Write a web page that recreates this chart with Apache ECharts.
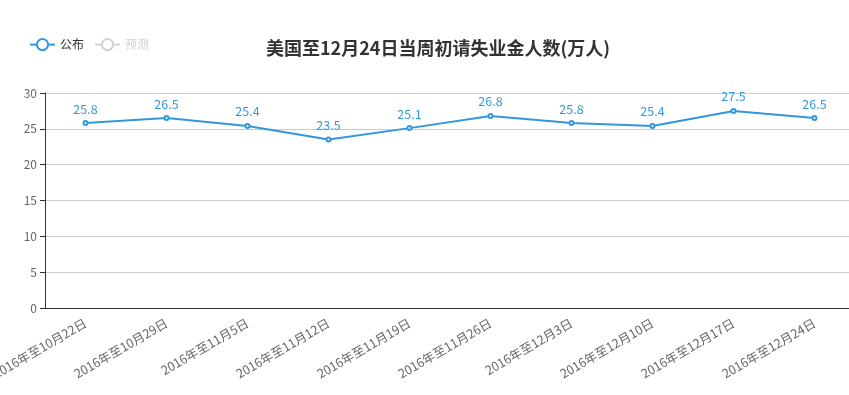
<!DOCTYPE html>
<html><head><meta charset="utf-8">
<script src="https://cdn.jsdelivr.net/npm/echarts@6/dist/echarts.min.js"></script>
<style>html,body{margin:0;padding:0;overflow:hidden;background:#fff;}#c{width:876px;height:395px;}</style>
</head><body><div id="c"></div>
<script>
const categories = ['2016年至10月22日','2016年至10月29日','2016年至11月5日','2016年至11月12日','2016年至11月19日','2016年至11月26日','2016年至12月3日','2016年至12月10日','2016年至12月17日','2016年至12月24日'];
const published = [25.8, 26.5, 25.4, 23.5, 25.1, 26.8, 25.8, 25.4, 27.5, 26.5];
const forecast = [];
const seriesNames = ['公布','预测'];
const titleText = '美国至12月24日当周初请失业金人数(万人)';

const chart = echarts.init(document.getElementById('c'));
const font = '"Noto Sans CJK SC", "Microsoft YaHei", sans-serif';
chart.setOption({
  animation: false,
  textStyle: {fontFamily: font},
  color: ['#3398DB', '#999'],
  title: {text: titleText, left: 'center', top: 34, textStyle: {fontSize: 18, fontWeight: 'bold', color: '#333', fontFamily: font}},
  legend: {left: 24, top: 33, itemWidth: 25, itemHeight: 14, itemGap: 10, data: seriesNames,
    selected: {'公布': true, '预测': false},
    textStyle: {fontSize: 12, color: '#333'}},
  grid: {left: 45, right: 21, top: 93, bottom: 87, containLabel: false, outerBoundsMode: 'none'},
  xAxis: {type: 'category', data: categories, boundaryGap: true,
    axisLine: {lineStyle: {color: '#333'}},
    axisTick: {lineStyle: {color: '#333'}},
    axisLabel: {rotate: 30, color: '#666', fontSize: 12.5, interval: 0, margin: 14}},
  yAxis: {type: 'value', min: 0, max: 30, interval: 5,
    axisLine: {show: true, lineStyle: {color: '#333'}},
    axisTick: {show: true, lineStyle: {color: '#333'}},
    axisLabel: {color: '#666', fontSize: 12},
    splitLine: {lineStyle: {color: '#ccc'}}},
  series: [
    {name: '公布', type: 'line', data: published, symbol: 'emptyCircle', symbolSize: 4,
      lineStyle: {width: 2, color: '#3398DB'}, itemStyle: {color: '#3398DB'},
      label: {show: true, position: 'top', color: '#3398DB', fontSize: 12.5}},
    {name: '预测', type: 'line', data: forecast, symbol: 'emptyCircle', symbolSize: 4}
  ]
});
</script></body></html>
